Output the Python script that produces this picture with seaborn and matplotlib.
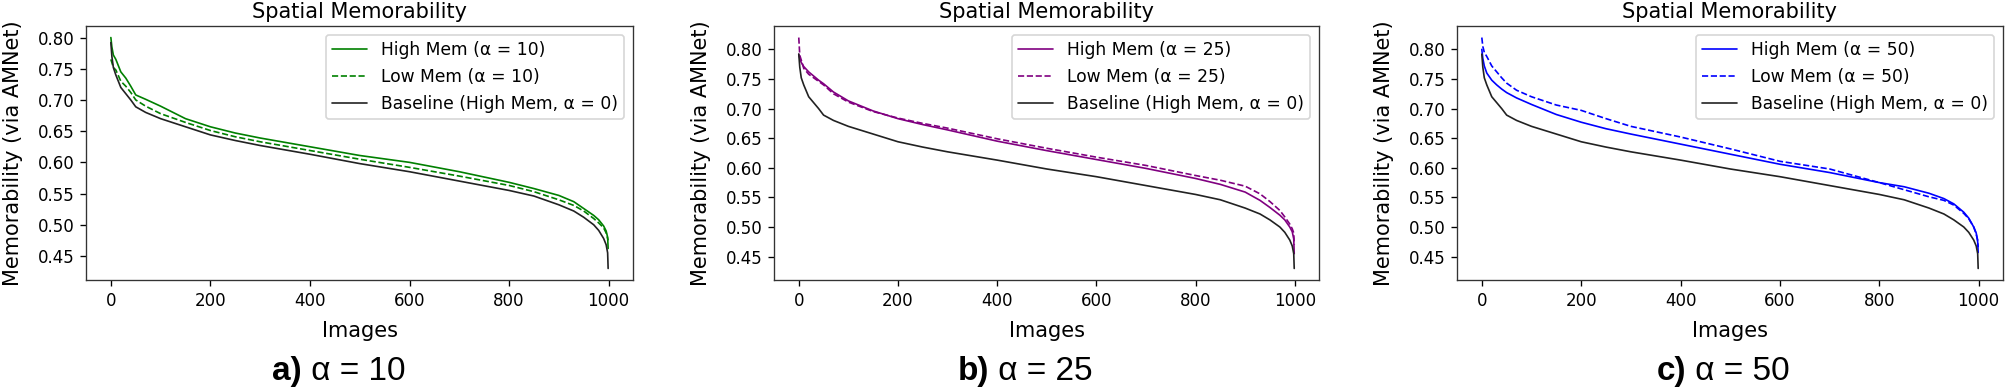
import matplotlib
matplotlib.use("Agg")
import matplotlib.pyplot as plt
import seaborn as sns

# image index (sorted by memorability) at which values were read
IDX = [0, 2, 5, 10, 20, 30, 40, 50, 70, 100, 150, 200, 250, 300, 400, 500,
       600, 700, 800, 850, 900, 930, 950, 970, 980, 990, 995, 998, 999]

# Baseline (High Mem, alpha = 0), same in all panels
BASE = [0.792, 0.770, 0.752, 0.740, 0.720, 0.710, 0.700, 0.689, 0.680, 0.670,
        0.657, 0.644, 0.635, 0.627, 0.613, 0.598, 0.585, 0.570, 0.555, 0.546,
        0.532, 0.522, 0.512, 0.500, 0.491, 0.478, 0.468, 0.455, 0.430]

HIGH_10 = [0.800, 0.785, 0.772, 0.765, 0.745, 0.735, 0.722, 0.708, 0.701, 0.690,
           0.670, 0.657, 0.647, 0.639, 0.625, 0.611, 0.600, 0.585, 0.568, 0.558,
           0.547, 0.537, 0.526, 0.515, 0.508, 0.498, 0.490, 0.480, 0.462]
LOW_10 = [0.765, 0.760, 0.752, 0.748, 0.730, 0.722, 0.712, 0.700, 0.690, 0.678,
          0.664, 0.651, 0.641, 0.633, 0.619, 0.605, 0.592, 0.578, 0.563, 0.553,
          0.540, 0.531, 0.522, 0.510, 0.503, 0.495, 0.487, 0.478, 0.475]

HIGH_25 = [0.792, 0.785, 0.778, 0.771, 0.762, 0.755, 0.748, 0.742, 0.728, 0.713,
           0.696, 0.683, 0.673, 0.664, 0.645, 0.629, 0.614, 0.599, 0.582, 0.572,
           0.559, 0.545, 0.533, 0.520, 0.512, 0.500, 0.492, 0.480, 0.455]
LOW_25 = [0.820, 0.790, 0.782, 0.768, 0.758, 0.752, 0.746, 0.740, 0.725, 0.711,
          0.695, 0.684, 0.675, 0.667, 0.649, 0.633, 0.618, 0.604, 0.587, 0.579,
          0.569, 0.556, 0.543, 0.528, 0.517, 0.505, 0.497, 0.490, 0.470]

HIGH_50 = [0.800, 0.785, 0.772, 0.760, 0.748, 0.740, 0.733, 0.727, 0.718, 0.707,
           0.690, 0.677, 0.666, 0.657, 0.640, 0.623, 0.606, 0.592, 0.575, 0.568,
           0.557, 0.548, 0.539, 0.525, 0.515, 0.500, 0.490, 0.475, 0.457]
LOW_50 = [0.820, 0.805, 0.795, 0.788, 0.772, 0.762, 0.752, 0.743, 0.731, 0.720,
          0.706, 0.697, 0.683, 0.670, 0.652, 0.632, 0.611, 0.598, 0.575, 0.563,
          0.551, 0.545, 0.537, 0.523, 0.514, 0.500, 0.488, 0.478, 0.466]

ALPHAS = [10, 25, 50]
PANEL_LETTERS = ["a)", "b)", "c)"]
HIGHS = [HIGH_10, HIGH_25, HIGH_50]
LOWS = [LOW_10, LOW_25, LOW_50]
COLORS = ["green", "purple", "blue"]

sns.set_style("ticks")
plt.rcParams["font.family"] = ["DejaVu Sans"]
plt.rcParams["text.color"] = "black"
plt.rcParams["axes.labelcolor"] = "black"
plt.rcParams["xtick.color"] = "black"
plt.rcParams["ytick.color"] = "black"
plt.rcParams["axes.edgecolor"] = "#333333"
plt.rcParams["xtick.direction"] = "out"
plt.rcParams["ytick.direction"] = "out"

DPI = 120
fig = plt.figure(figsize=(2007 / DPI, 389 / DPI), dpi=DPI)

# axes boxes in pixels: left, right (top 26, bottom 280)
boxes = [(86, 633), (774, 1319), (1457, 2003)]
caption_split = [302, 989, 1686]

for i in range(3):
    l, r = boxes[i]
    ax = fig.add_axes([l / 2007, 1 - 280 / 389, (r - l) / 2007, 254 / 389])
    a = ALPHAS[i]
    sns.lineplot(x=IDX, y=HIGHS[i], ax=ax, color=COLORS[i], lw=1,
                 label=f"High Mem (α = {a})")
    sns.lineplot(x=IDX, y=LOWS[i], ax=ax, color=COLORS[i], lw=1, linestyle="--",
                 label=f"Low Mem (α = {a})")
    sns.lineplot(x=IDX, y=BASE, ax=ax, color="#222222", lw=1,
                 label="Baseline (High Mem, α = 0)")
    ax.set_xticks([0, 200, 400, 600, 800, 1000])
    ax.set_yticks([0.45, 0.50, 0.55, 0.60, 0.65, 0.70, 0.75, 0.80])
    ax.tick_params(labelsize=10, length=3.5, width=0.8)
    for s in ax.spines.values():
        s.set_linewidth(0.8)
    ax.set_title("Spatial Memorability", fontsize=12.5, pad=5)
    ax.set_xlabel("Images", fontsize=12.5, labelpad=7)
    ax.set_ylabel("Memorability (via AMNet)", fontsize=12.5, labelpad=9)
    ax.legend(loc="upper right", fontsize=10.3)

    # panel caption below the axes
    xs = caption_split[i] / 2007
    fig.text(xs, 9 / 389, PANEL_LETTERS[i], ha="right", va="baseline",
             fontsize=20, fontweight="bold", family=["Liberation Sans"])
    fig.text(xs, 9 / 389, f" α = {a}", ha="left", va="baseline",
             fontsize=20, family=["Liberation Sans"])

fig.savefig("out.png", dpi=DPI)
